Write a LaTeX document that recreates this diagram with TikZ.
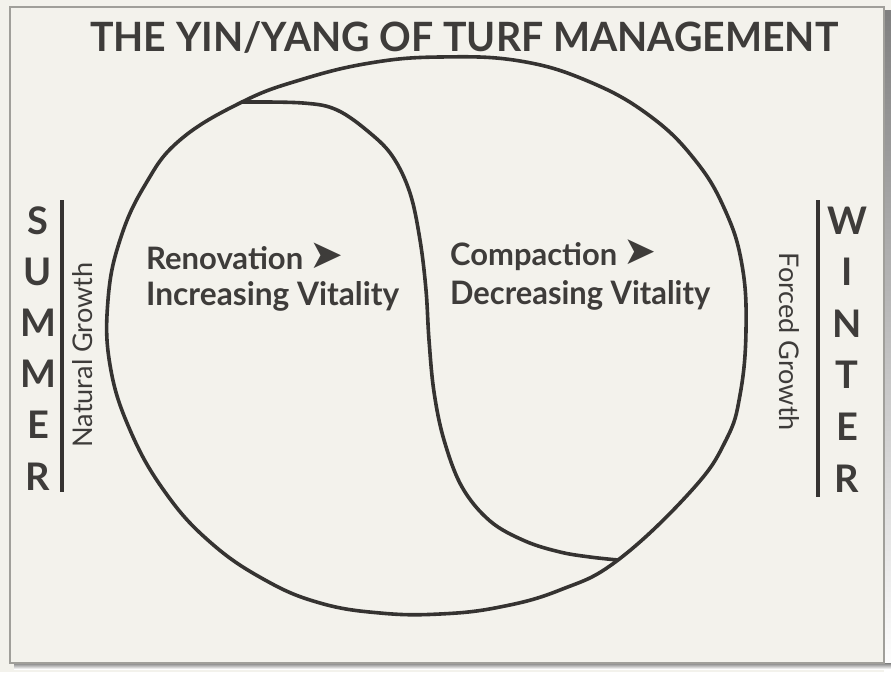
\documentclass[tikz,border=0pt]{standalone}
\usepackage{fontspec}
\setmainfont{Lato}
\newfontfamily\dejavu{DejaVu Sans}
\definecolor{ink}{HTML}{353331}
\definecolor{txt}{HTML}{3E3C3A}
\definecolor{paper}{HTML}{F3F2EC}
\definecolor{framec}{HTML}{A09F9A}
\definecolor{shade}{HTML}{8C8B87}
\begin{document}
\begin{tikzpicture}[x=1pt,y=-1pt,
  stroke/.style={draw=ink,line width=3.6pt,line join=round,line cap=round},
  barline/.style={draw=ink,line width=3.2pt},
  lbl/.style={inner sep=0pt,text=txt,font=\bfseries},
  bigletter/.style={inner sep=0pt,text=txt,anchor=base,font=\bfseries\fontsize{38}{38}\selectfont},
  sidetext/.style={inner sep=0pt,text=txt}]
\useasboundingbox (0,0) rectangle (891,672);
\fill[paper] (0,0) rectangle (891,672);
\fill[shade] (884,10) rectangle (891,672);
\fill[shade] (14,663) rectangle (891,669);
\draw[framec,line width=1.2pt] (10,7) rectangle (884,663);

% title
\node[sidetext,anchor=base west,font=\bfseries] (title) at (90,51) {\resizebox{748pt}{30pt}{THE YIN/YANG OF TURF MANAGEMENT}};

% outer circle
\draw[stroke] plot[smooth cycle, tension=0.7] coordinates {
 (440,57) (520,61) (590,82) (650,116) (695,160) (725,210) (742,265)
 (746,330) (740,395) (726,440) (692,490) (618,560) (560,590) (500,607)
 (440,614) (380,613) (320,603) (265,580) (210,542) (165,492) (130,430)
 (110,365) (108,300) (120,240) (145,185) (180,140) (242,102) (300,80) (370,63)};

% inner S-curve
\draw[stroke] plot[smooth, tension=0.6] coordinates {
 (242,102) (303,103) (337,110) (370,133) (393,157) (410,193) (420,240)
 (426,290) (429,340) (434,392) (444,440) (462,487) (490,521) (525,541)
 (560,552) (590,557) (618,560)};

% inner texts
\node[lbl,anchor=base west] (ren) at (146,269) {\resizebox{157pt}{23pt}{Renovation}};
\node[lbl,anchor=base west] (rena) at (309,268) {\resizebox{34pt}{!}{\dejavu ➤}};
\node[lbl,anchor=base west] (inc) at (146,305) {\resizebox{253pt}{24pt}{Increasing Vitality}};
\node[lbl,anchor=base west] (comp) at (450,265) {\resizebox{167pt}{23pt}{Compaction}};
\node[lbl,anchor=base west] (compa) at (623,264) {\resizebox{33pt}{!}{\dejavu ➤}};
\node[lbl,anchor=base west] (dec) at (450,304) {\resizebox{260pt}{24pt}{Decreasing Vitality}};

% SUMMER side
\coordinate (bl1) at (62,200);
\coordinate (bl2) at (62,492);
\draw[barline] (bl1) -- (bl2);
\foreach \l [count=\i] in {S,U,M,M,E,R}
  \node[bigletter] (s\i) at (38,{234+51.2*(\i-1)}) {\l};
\node[sidetext,rotate=90] (ng) at (83,355) {\resizebox{185pt}{!}{Natural Growth}};

% WINTER side
\coordinate (br1) at (818,200);
\coordinate (br2) at (818,497);
\draw[barline] (br1) -- (br2);
\foreach \l [count=\i] in {W,I,N,T,E,R}
  \node[bigletter] (w\i) at (847,{234+51.6*(\i-1)}) {\l};
\node[sidetext,rotate=-90] (fg) at (789,342) {\resizebox{178pt}{!}{Forced Growth}};
\end{tikzpicture}
\end{document}
